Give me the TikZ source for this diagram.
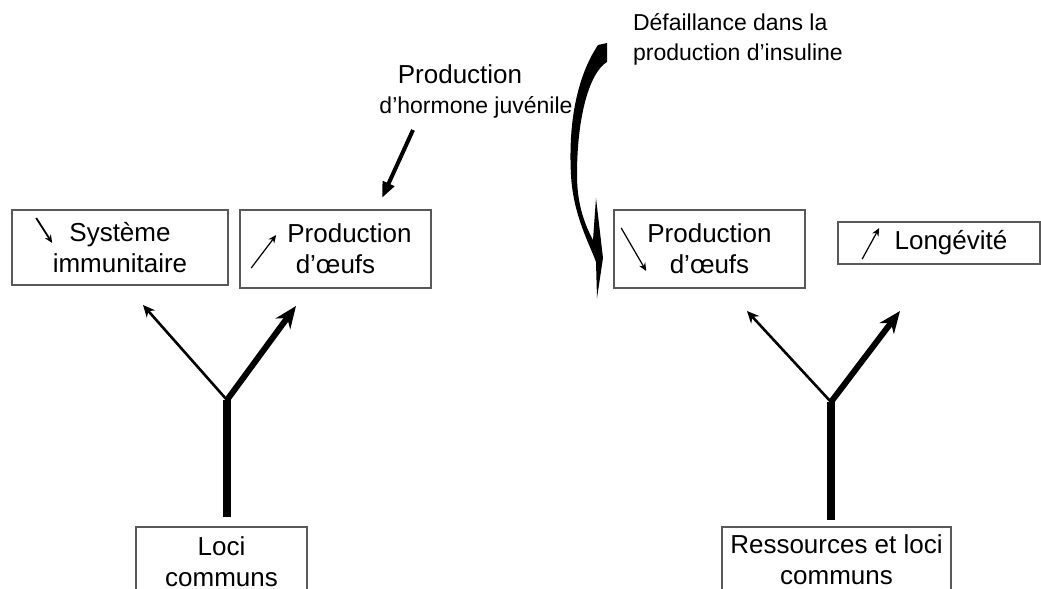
\documentclass[tikz,border=0pt]{standalone}
\usepackage{fontspec}
\setmainfont{Liberation Sans}
\usepackage{tikz}
\usetikzlibrary{arrows.meta,positioning}

\begin{document}
\begin{tikzpicture}[x=0.5pt, y=-0.5pt,
  box/.style={draw=black!65, line width=0.8pt, rectangle, inner sep=0pt, align=center,
    font=\fontsize{13}{15.5}\selectfont},
  boxtext/.style={anchor=north, inner sep=0pt, align=center, font=\fontsize{13}{15.5}\selectfont},
  lbl/.style={font=\fontsize{11.5}{15}\selectfont},
  stem/.style={line width=4pt},
  weak/.style={line width=1.3pt, -{Stealth[length=6pt,width=5.5pt]}},
  strong/.style={line width=3pt, -{Stealth[length=11pt,width=9pt]}},
  tick/.style={line width=0.6pt, -{Stealth[length=4pt,width=3.5pt]}},
  hormone/.style={line width=2pt, -{Triangle[length=8pt,width=6pt]}}]

  \useasboundingbox (0,0) rectangle (1041,589);
  \clip (0,0) rectangle (1041,589);

  % top row of boxes
  \node[box, minimum width=108pt, minimum height=37.5pt] (si) at (120,247.5) {Système\\immunitaire};
  \node[box, minimum width=95.5pt, minimum height=39pt] (pl) at (335.5,249) {\hspace*{14pt}Production\\d’œufs};
  \node[box, minimum width=95.5pt, minimum height=39pt] (pr) at (709.5,249) {Production\\d’œufs};
  \node[box, minimum width=101pt, minimum height=21pt] (lg) at (939,243) {\hspace*{12pt}Longévité};

  % bottom boxes (cut by the page edge)
  \node[box, anchor=north, minimum width=85.5pt, minimum height=40pt] (lc) at (221.5,526) {};
  \node[boxtext] (lct) at ([yshift=-5pt]lc.north) {Loci\\communs};
  \node[box, anchor=north, minimum width=114.5pt, minimum height=40pt] (rc) at (836.5,526) {};
  \node[boxtext] (rct) at ([yshift=-4pt]rc.north) {Ressources et loci\\communs};

  % labels
  \node[lbl, align=center] (hj) at (476,91) {{\fontsize{13}{15}\selectfont Production}\hspace*{16pt}\\d’hormone juvénile};
  \node[lbl, align=left, anchor=west] (di) at (626,39) {Défaillance dans la\\production d’insuline};

  % small signs in the boxes
  \draw[tick, line width=0.9pt] ([shift={(25,-29.5)}]si.west) -- ([shift={(41,-4.5)}]si.west);
  \draw[tick] ([shift={(12,19)}]pl.west) -- ([shift={(37,-14)}]pl.west);
  \draw[tick] ([shift={(8,-21)}]pr.west) -- ([shift={(33,22)}]pr.west);
  \draw[tick] ([shift={(25,16)}]lg.west) -- ([shift={(42,-15)}]lg.west);

  % forks
  \coordinate (lfork) at (227,400);
  \coordinate (limm) at (143,305);
  \coordinate (loeuf) at (296,306);
  \draw[stem, shorten <=4.5pt] (lc.north -| lfork) -- (lfork);
  \draw[weak] (lfork) -- (limm);
  \draw[strong] (lfork) -- (loeuf);

  \coordinate (rfork) at (831,402);
  \coordinate (roeuf) at (747,311);
  \coordinate (rlong) at (900,311);
  \draw[stem, shorten <=3pt] (rc.north -| rfork) -- (rfork);
  \draw[weak] (rfork) -- (roeuf);
  \draw[strong] (rfork) -- (rlong);

  % hormone arrow
  \coordinate (hjs) at (413,130);
  \coordinate (hje) at (382,198);
  \draw[hormone] (hjs) -- (hje);

  % insulin swoosh
  \fill (598,45) .. controls (578,75) and (568,120) .. (571,175)
    .. controls (573,215) and (590,245) .. (596,262) -- (597,298) -- (603,258)
    -- (596,198) -- (593,240)
    .. controls (585,225) and (577,205) .. (577,175)
    .. controls (577,115) and (590,72) .. (607,62) -- (607,43) -- cycle;

\end{tikzpicture}
\end{document}
